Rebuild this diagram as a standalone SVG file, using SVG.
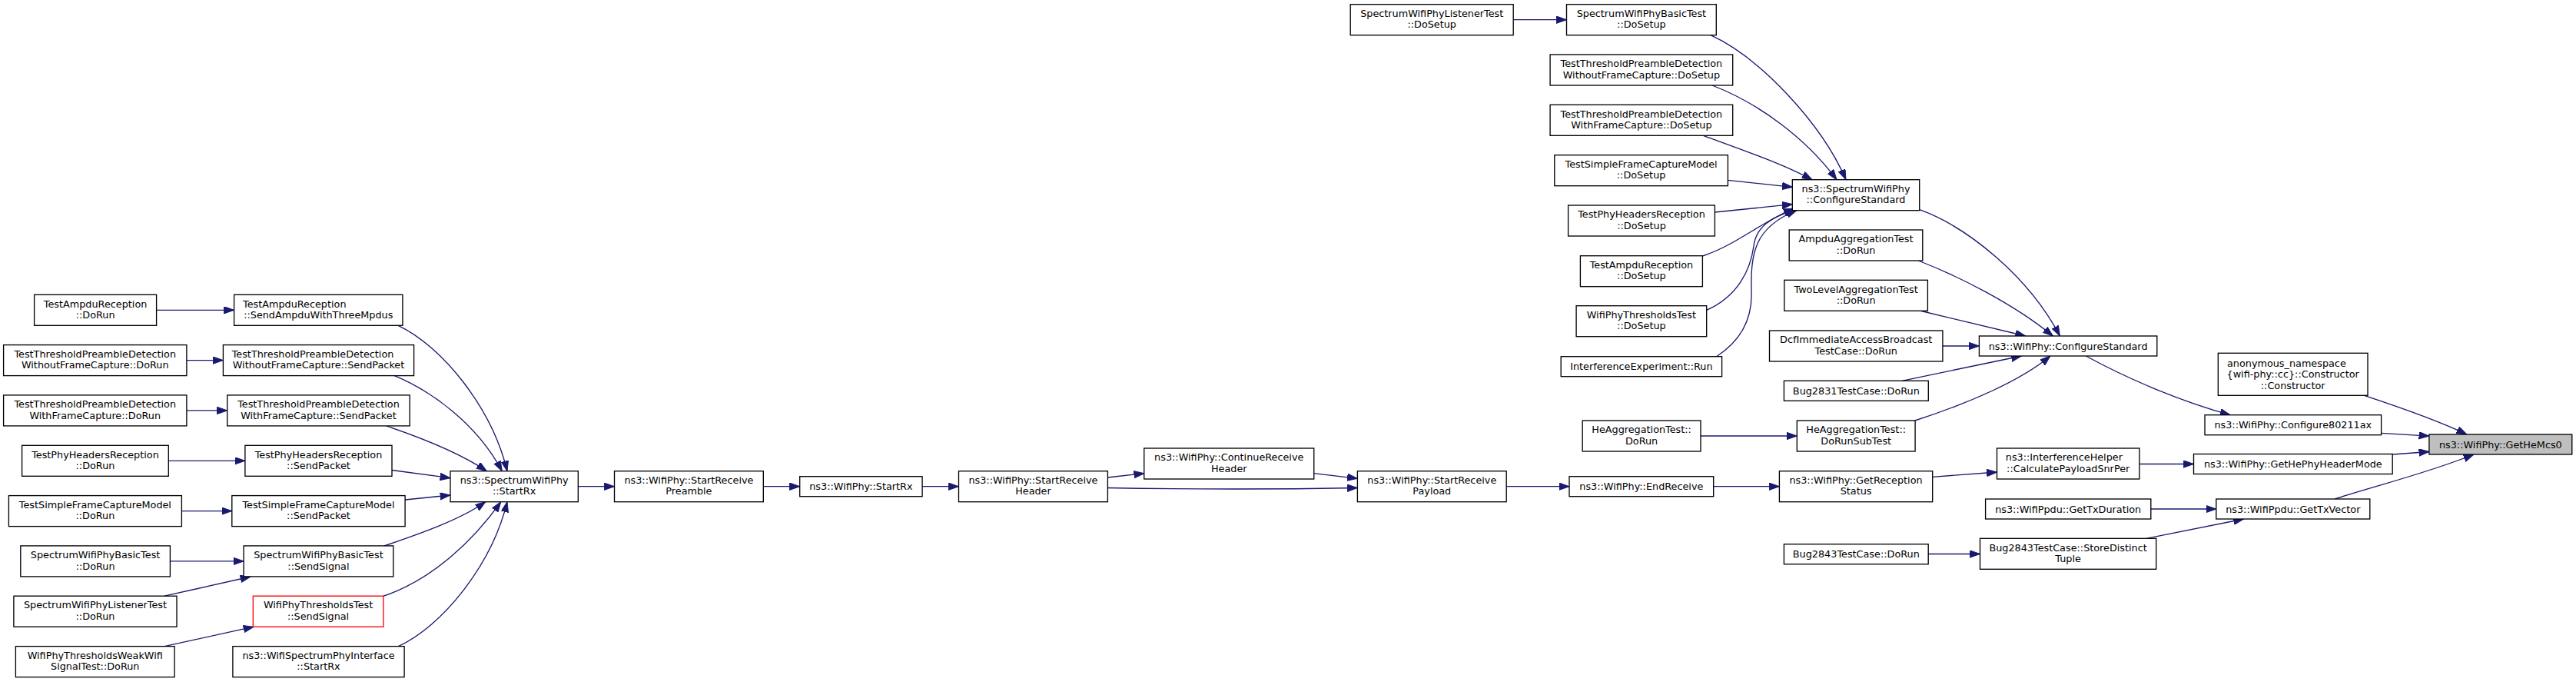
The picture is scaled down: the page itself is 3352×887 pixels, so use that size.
<svg xmlns="http://www.w3.org/2000/svg" width="3352" height="887" viewBox="0 0 3352 887">
<defs>
<style>
.n rect{fill:#fff;stroke:#000;stroke-width:1.33}
.n.red rect{stroke:#ff0000}
.n.hl rect{fill:#bfbfbf}
text{font-family:"DejaVu Sans","Liberation Sans",sans-serif;font-size:12.8px;fill:#000;text-anchor:middle}
text.s{text-anchor:start}
.e path{fill:none;stroke:#191970;stroke-width:1.33;marker-end:url(#a)}
</style>
<marker id="a" markerUnits="userSpaceOnUse" markerWidth="14" markerHeight="10" viewBox="0 0 14 10" refX="13.3" refY="4.7" orient="auto"><path d="M0,0 L13.3,4.7 L0,9.4 z" fill="#191970" stroke="#191970" stroke-width="1"/></marker>
</defs>
<rect width="3352" height="887" fill="#fff"/>
<g id="edges" class="e">
<path d="M203.6,403.3 L304.6,403.3"/>
<path d="M242.9,468.6 L290.4,468.6"/>
<path d="M242.9,533.9 L295.7,533.9"/>
<path d="M219.3,599.3 L318.9,599.3"/>
<path d="M236.4,664.6 L301.8,664.6"/>
<path d="M221.4,729.9 L317.1,729.9"/>
<path d="M214,775.2 L326,750"/>
<path d="M214,840.6 L330,815.2"/>
<path d="M518,423.3 C575,450 640,530 660,612.7"/>
<path d="M513.3,488.6 C560,508 620,550 653.3,612.7"/>
<path d="M502.7,553.9 C550,570 600,590 633.3,612.7"/>
<path d="M510,611.5 L586,621.7"/>
<path d="M527.3,650 L586,644"/>
<path d="M500,709.9 C550,693 600,675 631.7,652.7"/>
<path d="M499,775.2 C560,755 615,705 651.7,652.7"/>
<path d="M518.3,840.6 C575,815 640,735 660,652.7"/>
<path d="M752.3,632.7 L799.5,632.7"/>
<path d="M993.3,632.7 L1040.7,632.7"/>
<path d="M1200.1,632.7 L1247.5,632.7"/>
<path d="M1441.4,621 L1488.75,615.7"/>
<path d="M1441.4,634.5 C1550,636.5 1660,636.5 1766.4,634.5"/>
<path d="M1709.7,615.7 L1766.4,622.3"/>
<path d="M1960.2,632.7 L2042,632.7"/>
<path d="M2229.7,632.7 L2315.4,632.7"/>
<path d="M2514.7,620.3 L2598.5,614"/>
<path d="M2783.9,603.5 L2854.5,603.5"/>
<path d="M2798.8,662 L2883.8,662"/>
<path d="M2509.2,720.5 L2576.5,720.5"/>
<path d="M2793.4,700.3 L2919.7,675"/>
<path d="M3038,649 C3090,632 3160,615 3219,591"/>
<path d="M3113.2,591 L3160.9,587.5"/>
<path d="M3098.6,563.3 L3160.9,567.1"/>
<path d="M3076.4,514.3 C3130,532 3175,548 3210,565"/>
<path d="M2714.3,463 C2760,488 2830,520 2902,539.7"/>
<path d="M2497.7,272.7 C2560,295 2640,360 2680.4,437"/>
<path d="M2496.4,339 C2550,360 2620,395 2671.4,437"/>
<path d="M2500,404.5 L2635.7,437"/>
<path d="M2527.9,450 L2575.4,450"/>
<path d="M2475,495.3 L2630.4,463"/>
<path d="M2491.8,547 C2560,525 2630,495 2667.9,463"/>
<path d="M2213,567 L2338.3,567"/>
<path d="M1969.2,25.7 L2038.5,25.7"/>
<path d="M2226,45.7 C2290,75 2370,160 2402,233.7"/>
<path d="M2228,111 C2290,135 2350,180 2390,233.7"/>
<path d="M2216.5,176.3 C2270,196 2320,213 2358,233.7"/>
<path d="M2248.2,234.3 L2332.3,243.3"/>
<path d="M2231.4,276 L2332.3,265.7"/>
<path d="M2215.4,333 C2260,318 2290,290 2334,271"/>
<path d="M2220.7,403.3 C2262,385 2278,350 2282,320 C2285,295 2305,282 2336,273"/>
<path d="M2233.7,463.7 C2270,440 2280,410 2279,380 C2278,330 2282,296 2338,273.5"/>
</g>
<g id="n_A1" class="n"><rect x="44.6" y="383.3" width="159" height="40"/><text x="124.1" y="399.5">TestAmpduReception</text><text x="124.1" y="413.9">::DoRun</text></g>
<g id="n_A2" class="n"><rect x="4.6" y="448.6" width="238.3" height="40"/><text x="123.75" y="464.8">TestThresholdPreambleDetection</text><text x="123.75" y="479.2">WithoutFrameCapture::DoRun</text></g>
<g id="n_A3" class="n"><rect x="4.6" y="513.9" width="238.3" height="40"/><text x="123.75" y="530.1">TestThresholdPreambleDetection</text><text x="123.75" y="544.5">WithFrameCapture::DoRun</text></g>
<g id="n_A4" class="n"><rect x="28.6" y="579.3" width="190.7" height="40"/><text x="123.95" y="595.5">TestPhyHeadersReception</text><text x="123.95" y="609.9">::DoRun</text></g>
<g id="n_A5" class="n"><rect x="11.4" y="644.6" width="225" height="40"/><text x="123.9" y="660.8">TestSimpleFrameCaptureModel</text><text x="123.9" y="675.2">::DoRun</text></g>
<g id="n_A6" class="n"><rect x="26.8" y="709.9" width="194.6" height="40"/><text x="124.1" y="726.1">SpectrumWifiPhyBasicTest</text><text x="124.1" y="740.5">::DoRun</text></g>
<g id="n_A7" class="n"><rect x="17.9" y="775.2" width="212.1" height="40"/><text x="123.95" y="791.4">SpectrumWifiPhyListenerTest</text><text x="123.95" y="805.8">::DoRun</text></g>
<g id="n_A8" class="n"><rect x="20.4" y="840.6" width="206.7" height="40"/><text x="123.75" y="856.8">WifiPhyThresholdsWeakWifi</text><text x="123.75" y="871.2">SignalTest::DoRun</text></g>
<g id="n_B1" class="n"><rect x="304.6" y="383.3" width="219.3" height="40"/><text class="s" x="316" y="399.5">TestAmpduReception</text><text x="414.25" y="413.9">::SendAmpduWithThreeMpdus</text></g>
<g id="n_B2" class="n"><rect x="290.4" y="448.6" width="248.2" height="40"/><text class="s" x="301.7" y="464.8">TestThresholdPreambleDetection</text><text x="414.5" y="479.2">WithoutFrameCapture::SendPacket</text></g>
<g id="n_B3" class="n"><rect x="295.7" y="513.9" width="237.5" height="40"/><text x="414.45" y="530.1">TestThresholdPreambleDetection</text><text x="414.45" y="544.5">WithFrameCapture::SendPacket</text></g>
<g id="n_B4" class="n"><rect x="318.9" y="579.3" width="191.1" height="40"/><text x="414.45" y="595.5">TestPhyHeadersReception</text><text x="414.45" y="609.9">::SendPacket</text></g>
<g id="n_B5" class="n"><rect x="301.8" y="644.6" width="225.3" height="40"/><text x="414.45" y="660.8">TestSimpleFrameCaptureModel</text><text x="414.45" y="675.2">::SendPacket</text></g>
<g id="n_B6" class="n"><rect x="317.1" y="709.9" width="194.7" height="40"/><text x="414.45" y="726.1">SpectrumWifiPhyBasicTest</text><text x="414.45" y="740.5">::SendSignal</text></g>
<g id="n_B7" class="n red"><rect x="329.3" y="775.2" width="169.6" height="40"/><text x="414.1" y="791.4">WifiPhyThresholdsTest</text><text x="414.1" y="805.8">::SendSignal</text></g>
<g id="n_B8" class="n"><rect x="302.9" y="840.6" width="223.2" height="40"/><text x="414.5" y="856.8">ns3::WifiSpectrumPhyInterface</text><text x="414.5" y="871.2">::StartRx</text></g>
<g id="n_C" class="n"><rect x="586" y="612.7" width="166.3" height="40"/><text x="669.15" y="628.9">ns3::SpectrumWifiPhy</text><text x="669.15" y="643.3">::StartRx</text></g>
<g id="n_D" class="n"><rect x="799.5" y="612.7" width="193.8" height="40"/><text x="896.4" y="628.9">ns3::WifiPhy::StartReceive</text><text x="896.4" y="643.3">Preamble</text></g>
<g id="n_E" class="n"><rect x="1040.7" y="619.7" width="159.4" height="26"/><text x="1120.4" y="637.2">ns3::WifiPhy::StartRx</text></g>
<g id="n_F" class="n"><rect x="1247.5" y="612.7" width="193.9" height="40"/><text x="1344.45" y="628.9">ns3::WifiPhy::StartReceive</text><text x="1344.45" y="643.3">Header</text></g>
<g id="n_G" class="n"><rect x="1488.75" y="583" width="221" height="40"/><text x="1599.25" y="599.2">ns3::WifiPhy::ContinueReceive</text><text x="1599.25" y="613.6">Header</text></g>
<g id="n_H" class="n"><rect x="1766.4" y="612.7" width="193.8" height="40"/><text x="1863.3" y="628.9">ns3::WifiPhy::StartReceive</text><text x="1863.3" y="643.3">Payload</text></g>
<g id="n_I" class="n"><rect x="2042" y="619.7" width="187.7" height="26"/><text x="2135.85" y="637.2">ns3::WifiPhy::EndReceive</text></g>
<g id="n_J" class="n"><rect x="2315.4" y="612.7" width="199.3" height="40"/><text x="2415.05" y="628.9">ns3::WifiPhy::GetReception</text><text x="2415.05" y="643.3">Status</text></g>
<g id="n_K" class="n"><rect x="2059.2" y="547" width="153.8" height="40"/><text x="2136.1" y="563.2">HeAggregationTest::</text><text x="2136.1" y="577.6">DoRun</text></g>
<g id="n_L" class="n"><rect x="2338.3" y="547" width="153.8" height="40"/><text x="2415.2" y="563.2">HeAggregationTest::</text><text x="2415.2" y="577.6">DoRunSubTest</text></g>
<g id="n_M" class="n"><rect x="2321.4" y="707.7" width="187.8" height="26"/><text x="2415.3" y="725.2">Bug2843TestCase::DoRun</text></g>
<g id="n_N" class="n"><rect x="2598.5" y="583" width="185.4" height="40"/><text class="s" x="2609.8" y="599.2">ns3::InterferenceHelper</text><text x="2691.2" y="613.6">::CalculatePayloadSnrPer</text></g>
<g id="n_O" class="n"><rect x="2583.6" y="649" width="215.2" height="26"/><text x="2691.2" y="666.5">ns3::WifiPpdu::GetTxDuration</text></g>
<g id="n_P" class="n"><rect x="2576.5" y="700.3" width="229.2" height="40"/><text x="2691.1" y="716.5">Bug2843TestCase::StoreDistinct</text><text x="2691.1" y="730.9">Tuple</text></g>
<g id="n_Q" class="n"><rect x="2854.5" y="590.5" width="258.7" height="26"/><text x="2983.85" y="608">ns3::WifiPhy::GetHePhyHeaderMode</text></g>
<g id="n_R" class="n"><rect x="2883.8" y="649" width="200" height="26"/><text x="2983.8" y="666.5">ns3::WifiPpdu::GetTxVector</text></g>
<g id="n_S" class="n"><rect x="2869" y="539.7" width="229.6" height="26"/><text x="2983.8" y="557.2">ns3::WifiPhy::Configure80211ax</text></g>
<g id="n_T" class="n"><rect x="2886.3" y="459.3" width="194.7" height="55"/><text class="s" x="2898" y="476.9">anonymous_namespace</text><text x="2983.65" y="491.3">{wifi-phy::cc}::Constructor</text><text x="2983.65" y="505.7">::Constructor</text></g>
<g id="n_U" class="n hl"><rect x="3160.9" y="565" width="185.9" height="26"/><text x="3253.85" y="582.5">ns3::WifiPhy::GetHeMcs0</text></g>
<g id="n_V" class="n"><rect x="2575.4" y="437" width="231.4" height="26"/><text x="2691.1" y="454.5">ns3::WifiPhy::ConfigureStandard</text></g>
<g id="n_W" class="n"><rect x="2332.3" y="233.7" width="165.4" height="40"/><text x="2415" y="249.9">ns3::SpectrumWifiPhy</text><text x="2415" y="264.3">::ConfigureStandard</text></g>
<g id="n_X" class="n"><rect x="2328.2" y="299" width="173.6" height="40"/><text x="2415" y="315.2">AmpduAggregationTest</text><text x="2415" y="329.6">::DoRun</text></g>
<g id="n_Y" class="n"><rect x="2321.8" y="364.3" width="186.6" height="40"/><text x="2415.1" y="380.5">TwoLevelAggregationTest</text><text x="2415.1" y="394.9">::DoRun</text></g>
<g id="n_Z" class="n"><rect x="2302.5" y="430" width="225.4" height="40"/><text x="2415.2" y="446.2">DcfImmediateAccessBroadcast</text><text x="2415.2" y="460.6">TestCase::DoRun</text></g>
<g id="n_AA" class="n"><rect x="2321.4" y="495.3" width="187.9" height="26"/><text x="2415.35" y="512.8">Bug2831TestCase::DoRun</text></g>
<g id="n_T1" class="n"><rect x="1757.2" y="5.7" width="212" height="40"/><text x="1863.2" y="21.9">SpectrumWifiPhyListenerTest</text><text x="1863.2" y="36.3">::DoSetup</text></g>
<g id="n_T2" class="n"><rect x="2038.5" y="5.7" width="194.8" height="40"/><text x="2135.9" y="21.9">SpectrumWifiPhyBasicTest</text><text x="2135.9" y="36.3">::DoSetup</text></g>
<g id="n_T3" class="n"><rect x="2017.1" y="71" width="237.6" height="40"/><text x="2135.9" y="87.2">TestThresholdPreambleDetection</text><text x="2135.9" y="101.6">WithoutFrameCapture::DoSetup</text></g>
<g id="n_T4" class="n"><rect x="2017.1" y="136.3" width="237.6" height="40"/><text x="2135.9" y="152.5">TestThresholdPreambleDetection</text><text x="2135.9" y="166.9">WithFrameCapture::DoSetup</text></g>
<g id="n_T5" class="n"><rect x="2022.8" y="201.7" width="225.6" height="40"/><text x="2135.6" y="217.9">TestSimpleFrameCaptureModel</text><text x="2135.6" y="232.3">::DoSetup</text></g>
<g id="n_T6" class="n"><rect x="2040.6" y="267" width="190.8" height="40"/><text x="2136" y="283.2">TestPhyHeadersReception</text><text x="2136" y="297.6">::DoSetup</text></g>
<g id="n_T7" class="n"><rect x="2056.4" y="332.7" width="159" height="40"/><text x="2135.9" y="348.9">TestAmpduReception</text><text x="2135.9" y="363.3">::DoSetup</text></g>
<g id="n_T8" class="n"><rect x="2051.1" y="397.7" width="169.6" height="40"/><text x="2135.9" y="413.9">WifiPhyThresholdsTest</text><text x="2135.9" y="428.3">::DoSetup</text></g>
<g id="n_T9" class="n"><rect x="2031.2" y="463.7" width="209.4" height="26"/><text x="2135.9" y="481.2">InterferenceExperiment::Run</text></g>
</svg>
